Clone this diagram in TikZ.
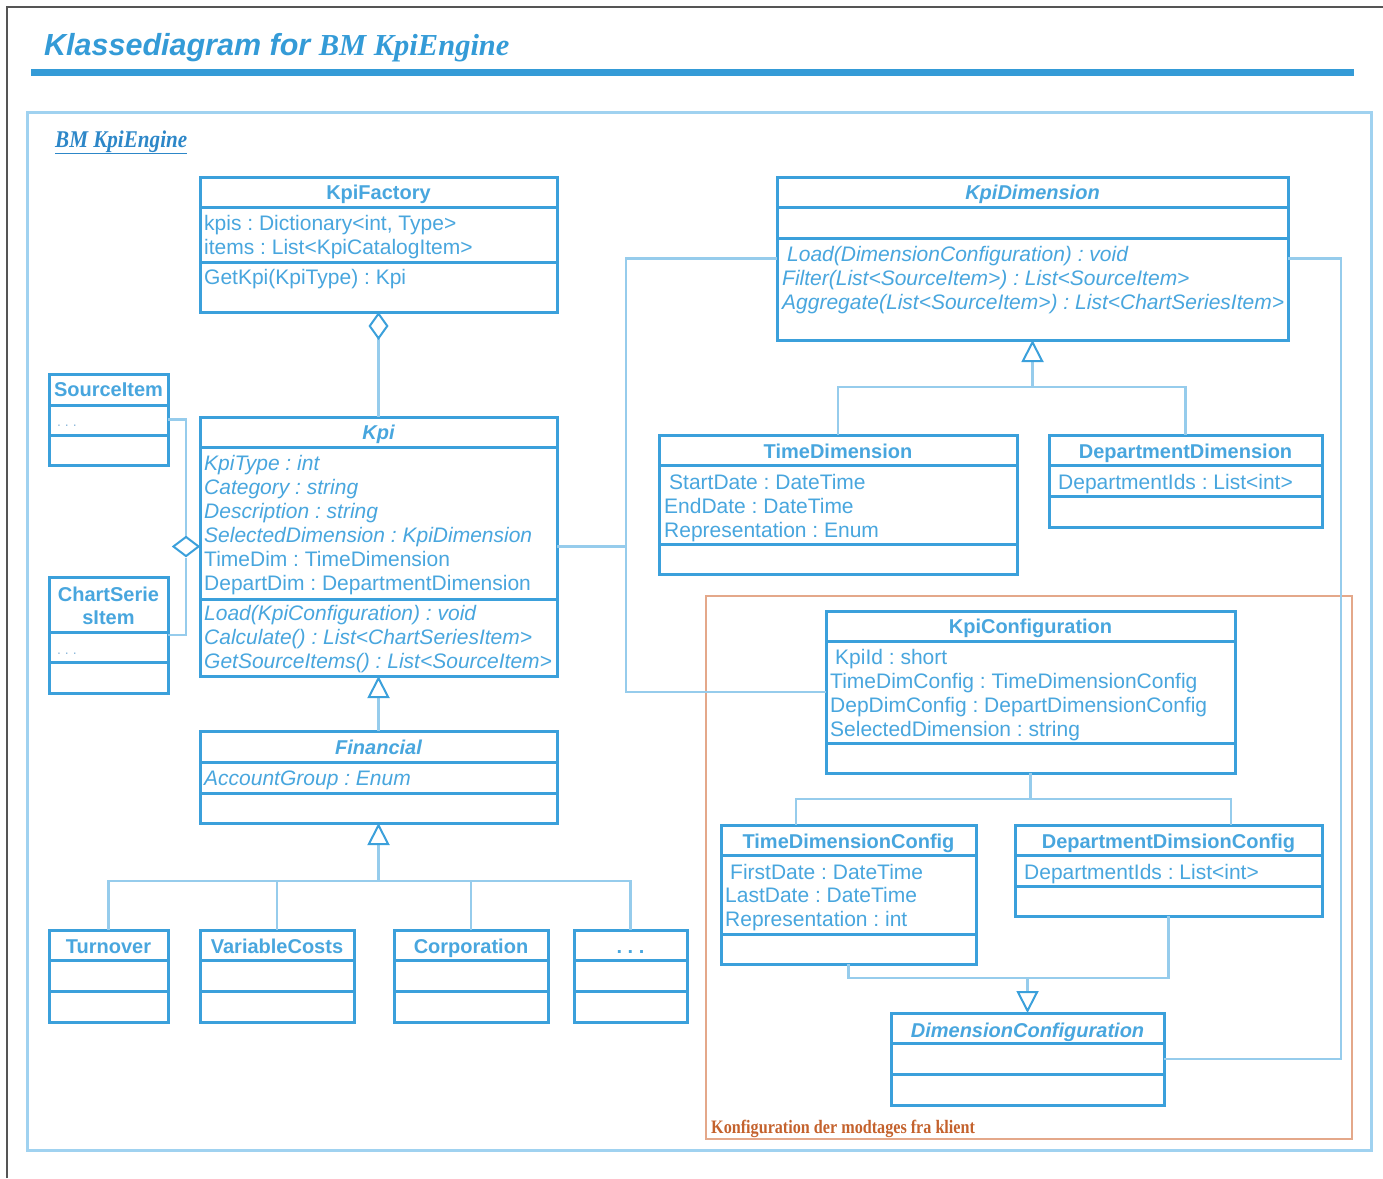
\documentclass[tikz,border=0pt]{standalone}
\usepackage{graphicx}
\usepackage{fontspec}
\setmainfont{Liberation Sans}
\newfontfamily\titleserif{Liberation Serif}
\usetikzlibrary{arrows.meta,shapes.geometric}
\frenchspacing

\definecolor{umlblue}{RGB}{59,160,219}
\definecolor{umltext}{RGB}{72,166,222}
\definecolor{linkblue}{RGB}{150,204,236}
\definecolor{pkgblue}{RGB}{160,210,240}
\definecolor{titleblue}{RGB}{52,155,215}
\definecolor{linkdark}{RGB}{45,135,200}
\definecolor{cfgframe}{RGB}{228,168,138}
\definecolor{cfgtext}{RGB}{196,98,45}
\definecolor{pagegrey}{RGB}{85,85,85}
\definecolor{dotgrey}{RGB}{140,185,220}

\newcommand\memberfont{\fontsize{21}{24}\selectfont}
\newcommand\namefont{\fontsize{20}{24}\selectfont}

\tikzset{
  classbox/.style={rectangle, draw=umlblue, line width=3pt, inner sep=0pt, outer sep=0pt, fill=white},
  compline/.style={draw=umlblue, line width=3pt},
  conn/.style={draw=linkblue, line width=2.5pt},
  gen/.style={-{Triangle[length=22pt, width=22pt, color=umlblue, fill=white, line width=2pt]}},
  cname/.style={anchor=base, inner sep=0pt, text=umltext, font=\namefont\bfseries},
  cnamei/.style={cname, font=\namefont\bfseries\itshape},
  member/.style={anchor=base west, inner sep=0pt, text=umltext, font=\memberfont},
  memberi/.style={member, font=\memberfont\itshape},
  dots/.style={anchor=base west, inner sep=0pt, text=dotgrey, font=\fontsize{14}{14}\selectfont},
}

% class box with two compartment separators
% #1 name, #2 left, #3 top, #4 right, #5 bottom, #6 first separator, #7 second separator
\newcommand\umlclass[7]{%
  \node[classbox, minimum width={#4pt-#2pt}, minimum height={#5pt-#3pt}, anchor=north west] (#1) at (#2,#3) {};
  \draw[compline] (#1.west |- 0,#6) -- (#1.east |- 0,#6);
  \draw[compline] (#1.west |- 0,#7) -- (#1.east |- 0,#7);
}

\begin{document}
\begin{tikzpicture}[x=1pt,y=-1pt]
\useasboundingbox (0,0) rectangle (1383,1178);

% page frame and title
\draw[pagegrey, line width=1.5pt] (7,1178) -- (7,7) -- (1383,7);
\node[anchor=base west, inner sep=0pt, text=titleblue] (title) at (44,55)
  {\fontsize{30.5}{36}\selectfont\bfseries\itshape Klassediagram for {\titleserif BM KpiEngine}};
\draw[titleblue, line width=7pt] (31,72.5) -- (1354,72.5);

% package frame and client configuration frame
\draw[pkgblue, line width=3pt] (27,112) rectangle (1371,1150);
\node[anchor=base west, inner sep=0pt, text=linkdark] (pkglabel) at (55,147)
  {\scalebox{0.88}[1]{\titleserif\fontsize{24}{24}\selectfont\bfseries\itshape\underline{BM KpiEngine}}};
\draw[cfgframe, line width=2.5pt] (706,596) rectangle (1352,1139);
\node[anchor=base west, inner sep=0pt, text=cfgtext] (cfglabel) at (711,1133)
  {\scalebox{0.85}[1]{\titleserif\fontsize{19}{19}\selectfont\bfseries Konfiguration der modtages fra klient}};

% classes
\umlclass{kpifactory}{200}{177}{557}{312}{207}{262}
\umlclass{kpi}{200}{417}{557}{676}{447}{599}
\umlclass{sourceitem}{49}{374}{168}{465}{405}{435}
\umlclass{chartitem}{49}{577}{168}{693}{632}{662}
\umlclass{financial}{200}{731}{557}{823}{762}{793}
\umlclass{turnover}{49}{930}{168}{1022}{960}{991}
\umlclass{varcosts}{200}{930}{354}{1022}{960}{991}
\umlclass{corporation}{394}{930}{548}{1022}{960}{991}
\umlclass{morekpis}{574}{930}{687}{1022}{960}{991}
\umlclass{kpidim}{777}{177}{1288}{340}{207}{238}
\umlclass{timedim}{659}{435}{1017}{574}{465}{544}
\umlclass{deptdim}{1049}{435}{1322}{527}{465}{496}
\umlclass{kpiconf}{826}{611}{1235}{773}{641}{743}
\umlclass{timeconf}{721}{825}{976}{964}{855}{934}
\umlclass{deptconf}{1015}{825}{1322}{916}{855}{886}
\umlclass{dimconf}{891}{1013}{1164}{1105}{1043}{1074}

% aggregation of source and chart items into Kpi
\node[diamond, draw=umlblue, line width=2pt, fill=white, minimum width=26pt, minimum height=20pt,
      inner sep=0pt, anchor=east] (srcagg) at (kpi.west) {};
\draw[conn] (sourceitem.east) -| (srcagg.north);
\draw[conn] (chartitem.east) -| (srcagg.south);

% KpiFactory holds Kpi
\draw[conn, {Diamond[length=28pt, width=20pt, color=umlblue, fill=white, line width=2pt]}-]
  (kpifactory.south) -- (kpi.north);

% Kpi hierarchy
\draw[conn, gen] (financial.north) -- (kpi.south);
\coordinate (finbus) at (378.5,881);
\draw[conn] (turnover.north) |- (finbus);
\draw[conn] (varcosts.north) |- (finbus);
\draw[conn] (corporation.north) |- (finbus);
\draw[conn] (morekpis.north) |- (finbus);
\draw[conn, gen] (finbus) -- (financial.south);

% dimension hierarchy
\coordinate (dimbus) at (1032.5,387);
\draw[conn] (timedim.north) |- (dimbus);
\draw[conn] (deptdim.north) |- (dimbus);
\draw[conn, gen] (dimbus) -- (kpidim.south);

% Kpi uses dimension and configuration
\coordinate (kpijoint) at (626,546.5);
\draw[conn] (kpi.east) -- (kpijoint) |- (kpidim.west);
\draw[conn] (kpijoint) |- (kpiconf.west);
\coordinate (dimlink) at (1341,258.5);
\draw[conn] (kpidim.east) -- (dimlink) |- (dimconf.east);

% configuration parts
\coordinate (cfgbus) at (1030.5,799);
\coordinate (tdcin) at (796,825);
\coordinate (ddcin) at (1231,825);
\draw[conn] (kpiconf.south) -- (cfgbus);
\draw[conn] (cfgbus) -| (tdcin);
\draw[conn] (cfgbus) -| (ddcin);

\coordinate (dcbus) at (1027.5,978);
\draw[conn] (timeconf.south) |- (dcbus);
\draw[conn] (deptconf.south) |- (dcbus);
\draw[conn, gen] (dcbus) -- (dimconf.north);

% texts: KpiFactory
\node[cname] (kfname) at (378.5,199) {KpiFactory};
\node[member] (kfa1) at (204,230) {kpis : Dictionary<int, Type>};
\node[member] (kfa2) at (204,254) {items : List<KpiCatalogItem>};
\node[member] (kfm1) at (204,284) {GetKpi(KpiType) : Kpi};

% Kpi
\node[cnamei] (kpiname) at (378.5,439) {Kpi};
\node[memberi] (kpia1) at (204,470) {KpiType : int};
\node[memberi] (kpia2) at (204,494) {Category : string};
\node[memberi] (kpia3) at (204,518) {Description : string};
\node[memberi] (kpia4) at (204,542) {SelectedDimension : KpiDimension};
\node[member]  (kpia5) at (204,566) {TimeDim : TimeDimension};
\node[member]  (kpia6) at (204,590) {DepartDim : DepartmentDimension};
\node[memberi] (kpim1) at (204,620) {Load(KpiConfiguration) : void};
\node[memberi] (kpim2) at (204,644) {Calculate() : List<ChartSeriesItem>};
\node[memberi] (kpim3) at (204,668) {GetSourceItems() : List<SourceItem>};

% SourceItem, ChartSeriesItem
\node[cname] (siname) at (108.5,396) {SourceItem};
\node[dots] (sidots) at (57,426) {. . .};
\node[cname] (ciname1) at (108.5,601) {ChartSerie};
\node[cname] (ciname2) at (108.5,624) {sItem};
\node[dots] (cidots) at (57,654) {. . .};

% Financial and its subclasses
\node[cnamei] (finname) at (378.5,754) {Financial};
\node[memberi] (fina1) at (204,785) {AccountGroup : Enum};
\node[cname] (toname) at (108.5,953) {Turnover};
\node[cname] (vcname) at (277,953) {VariableCosts};
\node[cname] (coname) at (471,953) {Corporation};
\node[cname] (mkname) at (630.5,953) {. . .};

% KpiDimension and subclasses
\node[cnamei] (kdname) at (1032.5,199) {KpiDimension};
\node[memberi] (kdm1) at (787,261) {Load(DimensionConfiguration) : void};
\node[memberi] (kdm2) at (782,285) {Filter(List<SourceItem>) : List<SourceItem>};
\node[memberi] (kdm3) at (782,309) {Aggregate(List<SourceItem>) : List<ChartSeriesItem>};
\node[cname] (tdname) at (838,458) {TimeDimension};
\node[member] (tda1) at (669,489) {StartDate : DateTime};
\node[member] (tda2) at (664,513) {EndDate : DateTime};
\node[member] (tda3) at (664,537) {Representation : Enum};
\node[cname] (ddname) at (1185.5,458) {DepartmentDimension};
\node[member] (dda1) at (1058,489) {DepartmentIds : List<int>};

% configuration classes
\node[cname] (kcname) at (1030.5,633) {KpiConfiguration};
\node[member] (kca1) at (835,664) {KpiId : short};
\node[member] (kca2) at (830,688) {TimeDimConfig : TimeDimensionConfig};
\node[member] (kca3) at (830,712) {DepDimConfig : DepartDimensionConfig};
\node[member] (kca4) at (830,736) {SelectedDimension : string};
\node[cname] (tcname) at (848.5,848) {TimeDimensionConfig};
\node[member] (tca1) at (730,879) {FirstDate : DateTime};
\node[member] (tca2) at (725,902) {LastDate : DateTime};
\node[member] (tca3) at (725,926) {Representation : int};
\node[cname] (dcname) at (1168.5,848) {DepartmentDimsionConfig};
\node[member] (dca1) at (1024,879) {DepartmentIds : List<int>};
\node[cnamei] (dimcname) at (1027.5,1037) {DimensionConfiguration};
\end{tikzpicture}
\end{document}
